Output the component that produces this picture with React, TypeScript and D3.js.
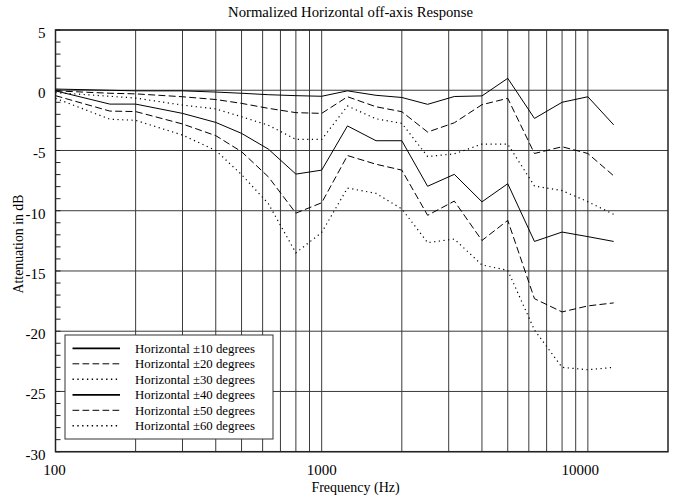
import React, { useEffect, useRef } from 'react';
import * as d3 from 'd3';

// third-octave points that were measured
const freqs = [100, 160, 200, 300, 400, 500, 630, 800, 1000, 1250, 1600, 2000, 2500, 3150, 4000, 5000, 6300, 8000, 10000, 12500];

const h10 = [0.1, 0.0, -0.05, -0.05, -0.15, -0.25, -0.37, -0.45, -0.5, -0.05, -0.42, -0.6, -1.17, -0.52, -0.47, 0.99, -2.34, -1.0, -0.54, -2.87];
const h20 = [-0.05, -0.25, -0.3, -0.54, -0.77, -1.09, -1.5, -1.86, -1.92, -0.54, -1.37, -1.78, -3.47, -2.7, -1.2, -0.67, -5.25, -4.69, -5.25, -7.1];
const h30 = [-0.2, -0.5, -0.65, -1.23, -1.55, -2.2, -2.9, -4.08, -4.08, -1.31, -2.37, -2.75, -5.5, -5.28, -4.47, -4.47, -7.95, -8.33, -9.25, -10.3];
const h40 = [-0.05, -1.15, -1.15, -1.92, -2.67, -3.58, -4.88, -6.96, -6.63, -2.96, -4.19, -4.19, -7.97, -6.98, -9.26, -7.76, -12.55, -11.77, -12.15, -12.55];
const h50 = [-0.45, -1.73, -1.77, -2.8, -3.77, -5.1, -7.18, -10.2, -9.34, -5.42, -6.14, -6.63, -10.38, -9.2, -12.47, -10.8, -17.3, -18.4, -17.9, -17.65];
const h60 = [-0.67, -2.4, -2.5, -3.72, -5.0, -7.0, -9.4, -13.5, -11.8, -8.12, -8.56, -9.85, -12.65, -12.35, -14.5, -14.95, -19.9, -23.0, -23.2, -23.0];

const seriesNames = [
  'Horizontal ±10 degrees',
  'Horizontal ±20 degrees',
  'Horizontal ±30 degrees',
  'Horizontal ±40 degrees',
  'Horizontal ±50 degrees',
  'Horizontal ±60 degrees',
];
const seriesValues = [h10, h20, h30, h40, h50, h60];

const yTicks = [5, 0, -5, -10, -15, -20, -25, -30];
const xTickLabels = [100, 1000, 10000];
const xGrid = [200, 300, 400, 500, 600, 700, 800, 900, 1000, 2000, 3000, 4000, 5000, 6000, 7000, 8000, 9000, 10000];

const W = 677;
const H = 502;
const FONT = '"Liberation Serif", "Times New Roman", serif';

export default function App() {
  const svgRef = useRef<SVGSVGElement>(null);

  useEffect(() => {
    if (!svgRef.current) return;
    const svg = d3.select(svgRef.current);
    svg.selectAll('*').remove();

    const x = d3.scaleLog().domain([100, 20000]).range([55.5, 668]);
    const y = d3.scaleLinear().domain([-30, 5]).range([451.7, 30]);

    const dashFor = (i: number) => (i % 3 === 0 ? null : i % 3 === 1 ? '7,3.3' : '1.2,3.5');

    // grid
    const grid = svg.append('g').attr('stroke', '#3a3a3a').attr('stroke-width', 1);
    xGrid.forEach(f => {
      grid.append('line')
        .attr('x1', x(f)).attr('x2', x(f))
        .attr('y1', y(5)).attr('y2', y(-30));
    });
    yTicks.forEach(v => {
      grid.append('line')
        .attr('x1', x(100)).attr('x2', x(20000))
        .attr('y1', y(v)).attr('y2', y(v));
    });

    // minor ticks on the left axis, every dB
    const ticks = svg.append('g').attr('stroke', '#222').attr('stroke-width', 1);
    d3.range(-30, 6).forEach(v => {
      ticks.append('line')
        .attr('x1', x(100)).attr('x2', x(100) + 5)
        .attr('y1', y(v)).attr('y2', y(v));
    });

    // frame
    svg.append('rect')
      .attr('x', x(100)).attr('y', y(5))
      .attr('width', x(20000) - x(100)).attr('height', y(-30) - y(5))
      .attr('fill', 'none').attr('stroke', '#222').attr('stroke-width', 1.5);

    // curves
    const line = d3.line<number>()
      .x((_, i) => x(freqs[i]))
      .y(d => y(d));

    seriesValues.forEach((vals, i) => {
      svg.append('path')
        .datum(vals)
        .attr('d', line)
        .attr('fill', 'none')
        .attr('stroke', '#000')
        .attr('stroke-width', i % 3 === 2 ? 1.2 : 1)
        .attr('stroke-dasharray', dashFor(i));
    });

    // y tick labels
    svg.append('g').selectAll('text')
      .data(yTicks)
      .join('text')
      .attr('x', 45.5)
      .attr('y', d => y(d) + 8)
      .attr('text-anchor', 'end')
      .attr('font-family', FONT)
      .attr('font-size', 15)
      .text(d => String(d));

    // x tick labels
    svg.append('g').selectAll('text')
      .data(xTickLabels)
      .join('text')
      .attr('x', d => x(d))
      .attr('dx', d => (d === 10000 ? -7.5 : d === 100 ? -1 : 0))
      .attr('y', 475)
      .attr('text-anchor', 'middle')
      .attr('font-family', FONT)
      .attr('font-size', 15)
      .text(d => String(d));

    // title and axis names
    svg.append('text')
      .attr('x', 350.5).attr('y', 17)
      .attr('text-anchor', 'middle')
      .attr('font-family', FONT).attr('font-size', 14.7)
      .text('Normalized Horizontal off-axis Response');

    svg.append('text')
      .attr('x', 355.5).attr('y', 492)
      .attr('text-anchor', 'middle')
      .attr('font-family', FONT).attr('font-size', 14)
      .text('Frequency (Hz)');

    svg.append('text')
      .attr('transform', 'translate(23,244) rotate(-90)')
      .attr('text-anchor', 'middle')
      .attr('font-family', FONT).attr('font-size', 13.8)
      .text('Attenuation in dB');

    // legend
    const lg = svg.append('g');
    lg.append('rect')
      .attr('x', 65).attr('y', 335).attr('width', 208).attr('height', 104)
      .attr('fill', '#fff').attr('stroke', '#333').attr('stroke-width', 1);

    seriesNames.forEach((name, i) => {
      const ry = 348.3 + i * 15.5;
      lg.append('line')
        .attr('x1', 72.5).attr('x2', 120)
        .attr('y1', ry).attr('y2', ry)
        .attr('stroke', '#000')
        .attr('stroke-width', i % 3 === 0 ? 1.8 : i % 3 === 1 ? 1 : 1.5)
        .attr('stroke-dasharray', i % 3 === 1 ? '6.7,3.3' : i % 3 === 2 ? '1.4,3.4' : null);
      lg.append('text')
        .attr('x', 135).attr('y', ry + 4.5)
        .attr('font-family', FONT).attr('font-size', 12.8)
        .text(name);
    });
  }, []);

  return (
    <svg
      ref={svgRef}
      width={W}
      height={H}
      style={{ position: 'absolute', left: 0, top: 0, background: '#fff' }}
    />
  );
}
